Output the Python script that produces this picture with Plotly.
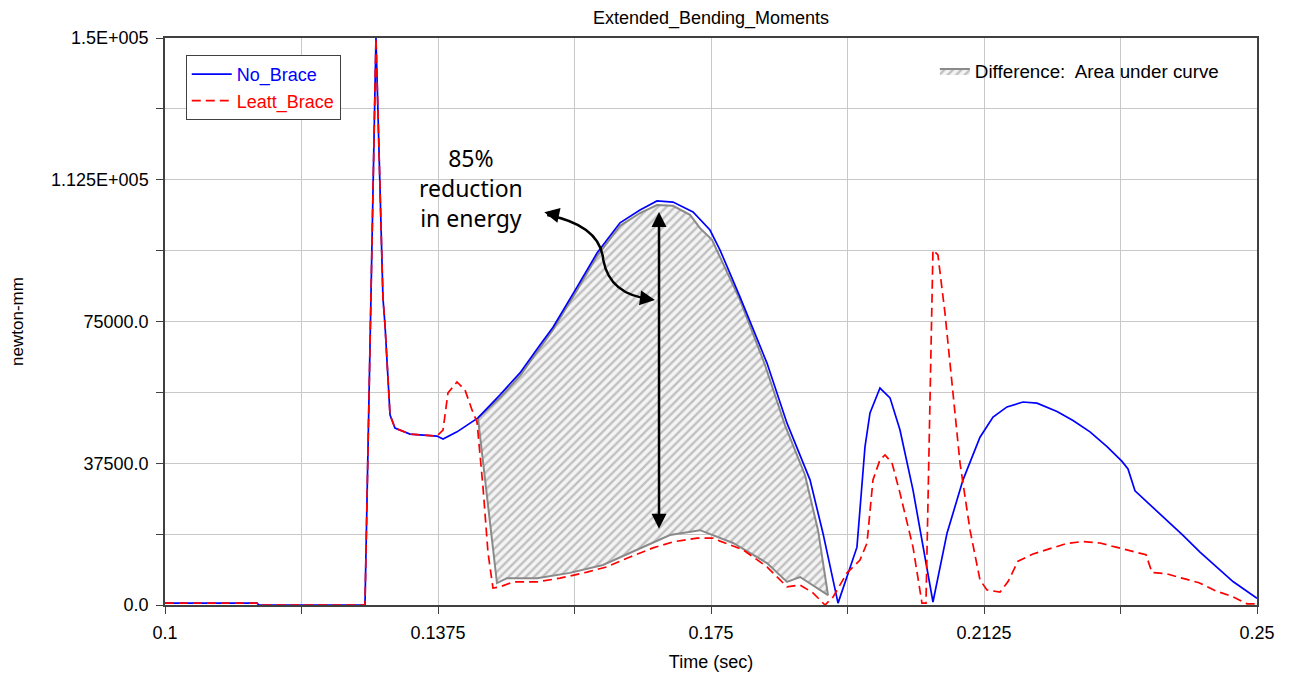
import plotly.graph_objects as go

# ── data ─────────────────────────────────────────────────────────────────────
time_no_brace = [0.1, 0.11264, 0.11291, 0.12747, 0.12898, 0.12994, 0.13022, 0.13091,
                 0.13159, 0.13365, 0.13736, 0.13819, 0.14011, 0.14299, 0.14602, 0.14876,
                 0.15151, 0.15330, 0.15659, 0.15934, 0.16250, 0.16525, 0.16758, 0.16978,
                 0.17253, 0.17486, 0.17624, 0.17898, 0.18269, 0.18544, 0.18860, 0.19038,
                 0.19245, 0.19505, 0.19615, 0.19684, 0.19821, 0.19959, 0.20096, 0.20275,
                 0.20549, 0.20742, 0.20962, 0.21195, 0.21374, 0.21566, 0.21786, 0.21978,
                 0.22253, 0.22473, 0.22706, 0.22940, 0.23146, 0.23228, 0.23324, 0.23571,
                 0.23805, 0.23984, 0.24217, 0.24451, 0.24670, 0.25]
no_brace = [500, 500, 0, 0, 150000, 81200, 74100, 50300,
            46800, 45200, 44700, 43900, 45800, 49500, 55600, 61400,
            68800, 73500, 84100, 93100, 101100, 104500, 106900, 106600,
            104000, 99200, 93900, 81500, 64000, 48100, 33100, 19000,
            500, 15300, 41800, 50800, 57400, 54800, 46300, 30400,
            800, 19000, 33100, 44400, 49700, 52400, 53700, 53400,
            51200, 48800, 45800, 41900, 38000, 36000, 30200, 25800,
            21800, 18400, 14000, 10100, 6200, 1800]

time_leatt = [0.1, 0.11264, 0.11291, 0.12747, 0.12898, 0.12994, 0.13022, 0.13091,
              0.13159, 0.13365, 0.13736, 0.13819, 0.13887, 0.14011, 0.14121, 0.14217,
              0.14286, 0.14368, 0.14437, 0.14505, 0.14602, 0.14780, 0.15110, 0.15426,
              0.15797, 0.16071, 0.16387, 0.16703, 0.16978, 0.17308, 0.17527, 0.17624,
              0.17940, 0.18269, 0.18544, 0.18723, 0.18901, 0.19066, 0.19176, 0.19368,
              0.19547, 0.19643, 0.19725, 0.19821, 0.19890, 0.19986, 0.20096, 0.20275,
              0.20398, 0.20453, 0.20549, 0.20617, 0.20714, 0.20824, 0.20920, 0.21058,
              0.21195, 0.21291, 0.21470, 0.21580, 0.21717, 0.21923, 0.22157, 0.22390,
              0.22610, 0.22843, 0.23063, 0.23283, 0.23475, 0.23558, 0.23750, 0.23970,
              0.24203, 0.24437, 0.24656, 0.24863, 0.25]
leatt = [500, 500, 0, 0, 150000, 81200, 74100, 50300,
         46800, 45200, 44700, 46300, 56100, 59000, 56900, 51600,
         48400, 31200, 13800, 4500, 4800, 6100, 6100, 7100,
         8700, 10100, 12700, 15100, 16700, 17700, 17700, 16900,
         14600, 10100, 4800, 5300, 3200, 0, 2100, 8500,
         11900, 16400, 33100, 38400, 39700, 37600, 29600, 15300,
         500, 500, 93900, 92600, 77200, 55000, 37600, 19800,
         6600, 4000, 3400, 6200, 11600, 13500, 15000, 16300,
         16800, 16400, 15300, 14300, 13300, 8600, 8300, 7100,
         5900, 3700, 2300, 300, 300]

# outline of the hatched "difference" region (upper edge, then lower edge back)
diff_time = [0.14299, 0.14602, 0.14876, 0.15330, 0.15659, 0.15934, 0.16250, 0.16525,
             0.16758, 0.16978, 0.17212, 0.17349, 0.17514, 0.17898, 0.18242, 0.18516,
             0.18791, 0.18970, 0.19107, 0.18901, 0.18723, 0.18544, 0.18269, 0.17802,
             0.17349, 0.16937, 0.16484, 0.16016, 0.15563, 0.15110, 0.14698, 0.14560,
             0.14299]
diff_value = [49500, 54800, 60600, 72800, 83300, 92300, 100300, 103700,
              105800, 105600, 103200, 99700, 96600, 80700, 63500, 47600,
              34400, 19800, 2600, 5300, 7400, 6100, 11100, 16400,
              19800, 18500, 14600, 10600, 8500, 7100, 7100, 5800,
              49500]

y_tickvals = [0, 37500, 75000, 112500, 150000]
y_ticktext = ["0.0", "37500.0", "75000.0", "1.125E+005", "1.5E+005"]
x_tickvals = [0.1, 0.1375, 0.175, 0.2125, 0.25]
x_ticktext = ["0.1", "0.1375", "0.175", "0.2125", "0.25"]

FONT = "Liberation Sans, Arial, sans-serif"

fig = go.Figure()

fig.add_trace(go.Scatter(
    x=diff_time, y=diff_value, mode="lines", fill="toself",
    line=dict(color="#8a8a8a", width=2),
    fillcolor="rgba(0,0,0,0)",
    fillpattern=dict(shape="/", fgcolor="#8c8c8c", bgcolor="#f4f4f4",
                     size=6, solidity=0.4),
    name="Difference:  Area under curve", legend="legend2",
))
fig.add_trace(go.Scatter(
    x=time_no_brace, y=no_brace, mode="lines",
    line=dict(color="#0000ff", width=1.7),
    name="<span style='color:#0000ff'>No_Brace</span>",
))
fig.add_trace(go.Scatter(
    x=time_leatt, y=leatt, mode="lines",
    line=dict(color="#ff0000", width=1.7, dash="9px,5px"),
    name="<span style='color:#ff0000'>Leatt_Brace</span>",
))

# vertical double arrow across the gap
fig.add_annotation(x=0.16786, y=104000, ax=0.16786, ay=19800,
                   xref="x", yref="y", axref="x", ayref="y",
                   showarrow=True, arrowside="end+start", arrowhead=2,
                   arrowsize=1.2, arrowwidth=2.5, arrowcolor="black", text="")

# curved arrow from the text to the gap
fig.add_shape(type="path",
              path="M 0.1525,103200 Q 0.1598,100500 0.1602,91300 Q 0.1611,82000 0.1668,80900",
              xref="x", yref="y", line=dict(color="black", width=2.5))
fig.add_annotation(x=0.15210, y=103900, ax=14, ay=3, xref="x", yref="y",
                   showarrow=True, arrowhead=2, arrowsize=1.2, arrowwidth=2.5,
                   arrowcolor="black", text="")
fig.add_annotation(x=0.16730, y=80700, ax=-14, ay=-2, xref="x", yref="y",
                   showarrow=True, arrowhead=2, arrowsize=1.2, arrowwidth=2.5,
                   arrowcolor="black", text="")

fig.add_annotation(x=0.1421, y=110200, xref="x", yref="y", showarrow=False,
                   text="85%<br>reduction<br>in energy", align="center",
                   font=dict(family="Noto Sans, Open Sans, sans-serif", size=23, color="black"))

# the page has an 8px body margin, so margins are set 8px smaller at top/left
fig.update_layout(
    width=1293, height=680,
    margin=dict(l=157, r=44, t=30, b=83, autoexpand=False),
    paper_bgcolor="white", plot_bgcolor="white",
    font=dict(family=FONT, size=18, color="black"),
    title=dict(text="Extended_Bending_Moments", x=0.5, xref="paper", xanchor="center",
               y=1 - 10 / 680, yref="container", yanchor="middle",
               font=dict(family=FONT, size=18)),
    showlegend=True,
    legend=dict(x=0.019, y=0.97, xanchor="left", yanchor="top",
                bgcolor="white", bordercolor="#404040", borderwidth=1,
                font=dict(family=FONT, size=18), itemwidth=40,
                tracegroupgap=0),
    legend2=dict(x=0.705, y=0.975, xanchor="left", yanchor="top",
                 bgcolor="rgba(0,0,0,0)", borderwidth=0,
                 font=dict(family=FONT, size=18.8, color="black")),
)

fig.update_xaxes(
    range=[0.1, 0.25], tickvals=x_tickvals, ticktext=x_ticktext, automargin=False,
    showgrid=True, gridcolor="#c8c8c8", gridwidth=1,
    minor=dict(tickvals=[0.11875, 0.15625, 0.19375, 0.23125], showgrid=True,
               gridcolor="#c8c8c8", ticks="outside", ticklen=7, tickcolor="#404040"),
    ticks="outside", ticklen=7, tickcolor="#404040", ticklabelstandoff=4,
    showline=True, linecolor="#404040", linewidth=1.5, mirror=True,
    zeroline=False,
    tickfont=dict(family=FONT, size=18),
    title=dict(text="Time (sec)", font=dict(family=FONT, size=18), standoff=13),
)
fig.update_yaxes(
    range=[0, 150000], tickvals=y_tickvals, ticktext=y_ticktext, automargin=False,
    showgrid=True, gridcolor="#c8c8c8", gridwidth=1,
    minor=dict(tickvals=[18750, 56250, 93750, 131250], showgrid=True,
               gridcolor="#c8c8c8", ticks="outside", ticklen=7, tickcolor="#404040"),
    ticks="outside", ticklen=7, tickcolor="#404040", ticklabelstandoff=4,
    showline=True, linecolor="#404040", linewidth=1.5, mirror=True,
    zeroline=False,
    tickfont=dict(family=FONT, size=18),
    title=dict(text="newton-mm", font=dict(family=FONT, size=17), standoff=28),
)

fig.write_html("out.html")
